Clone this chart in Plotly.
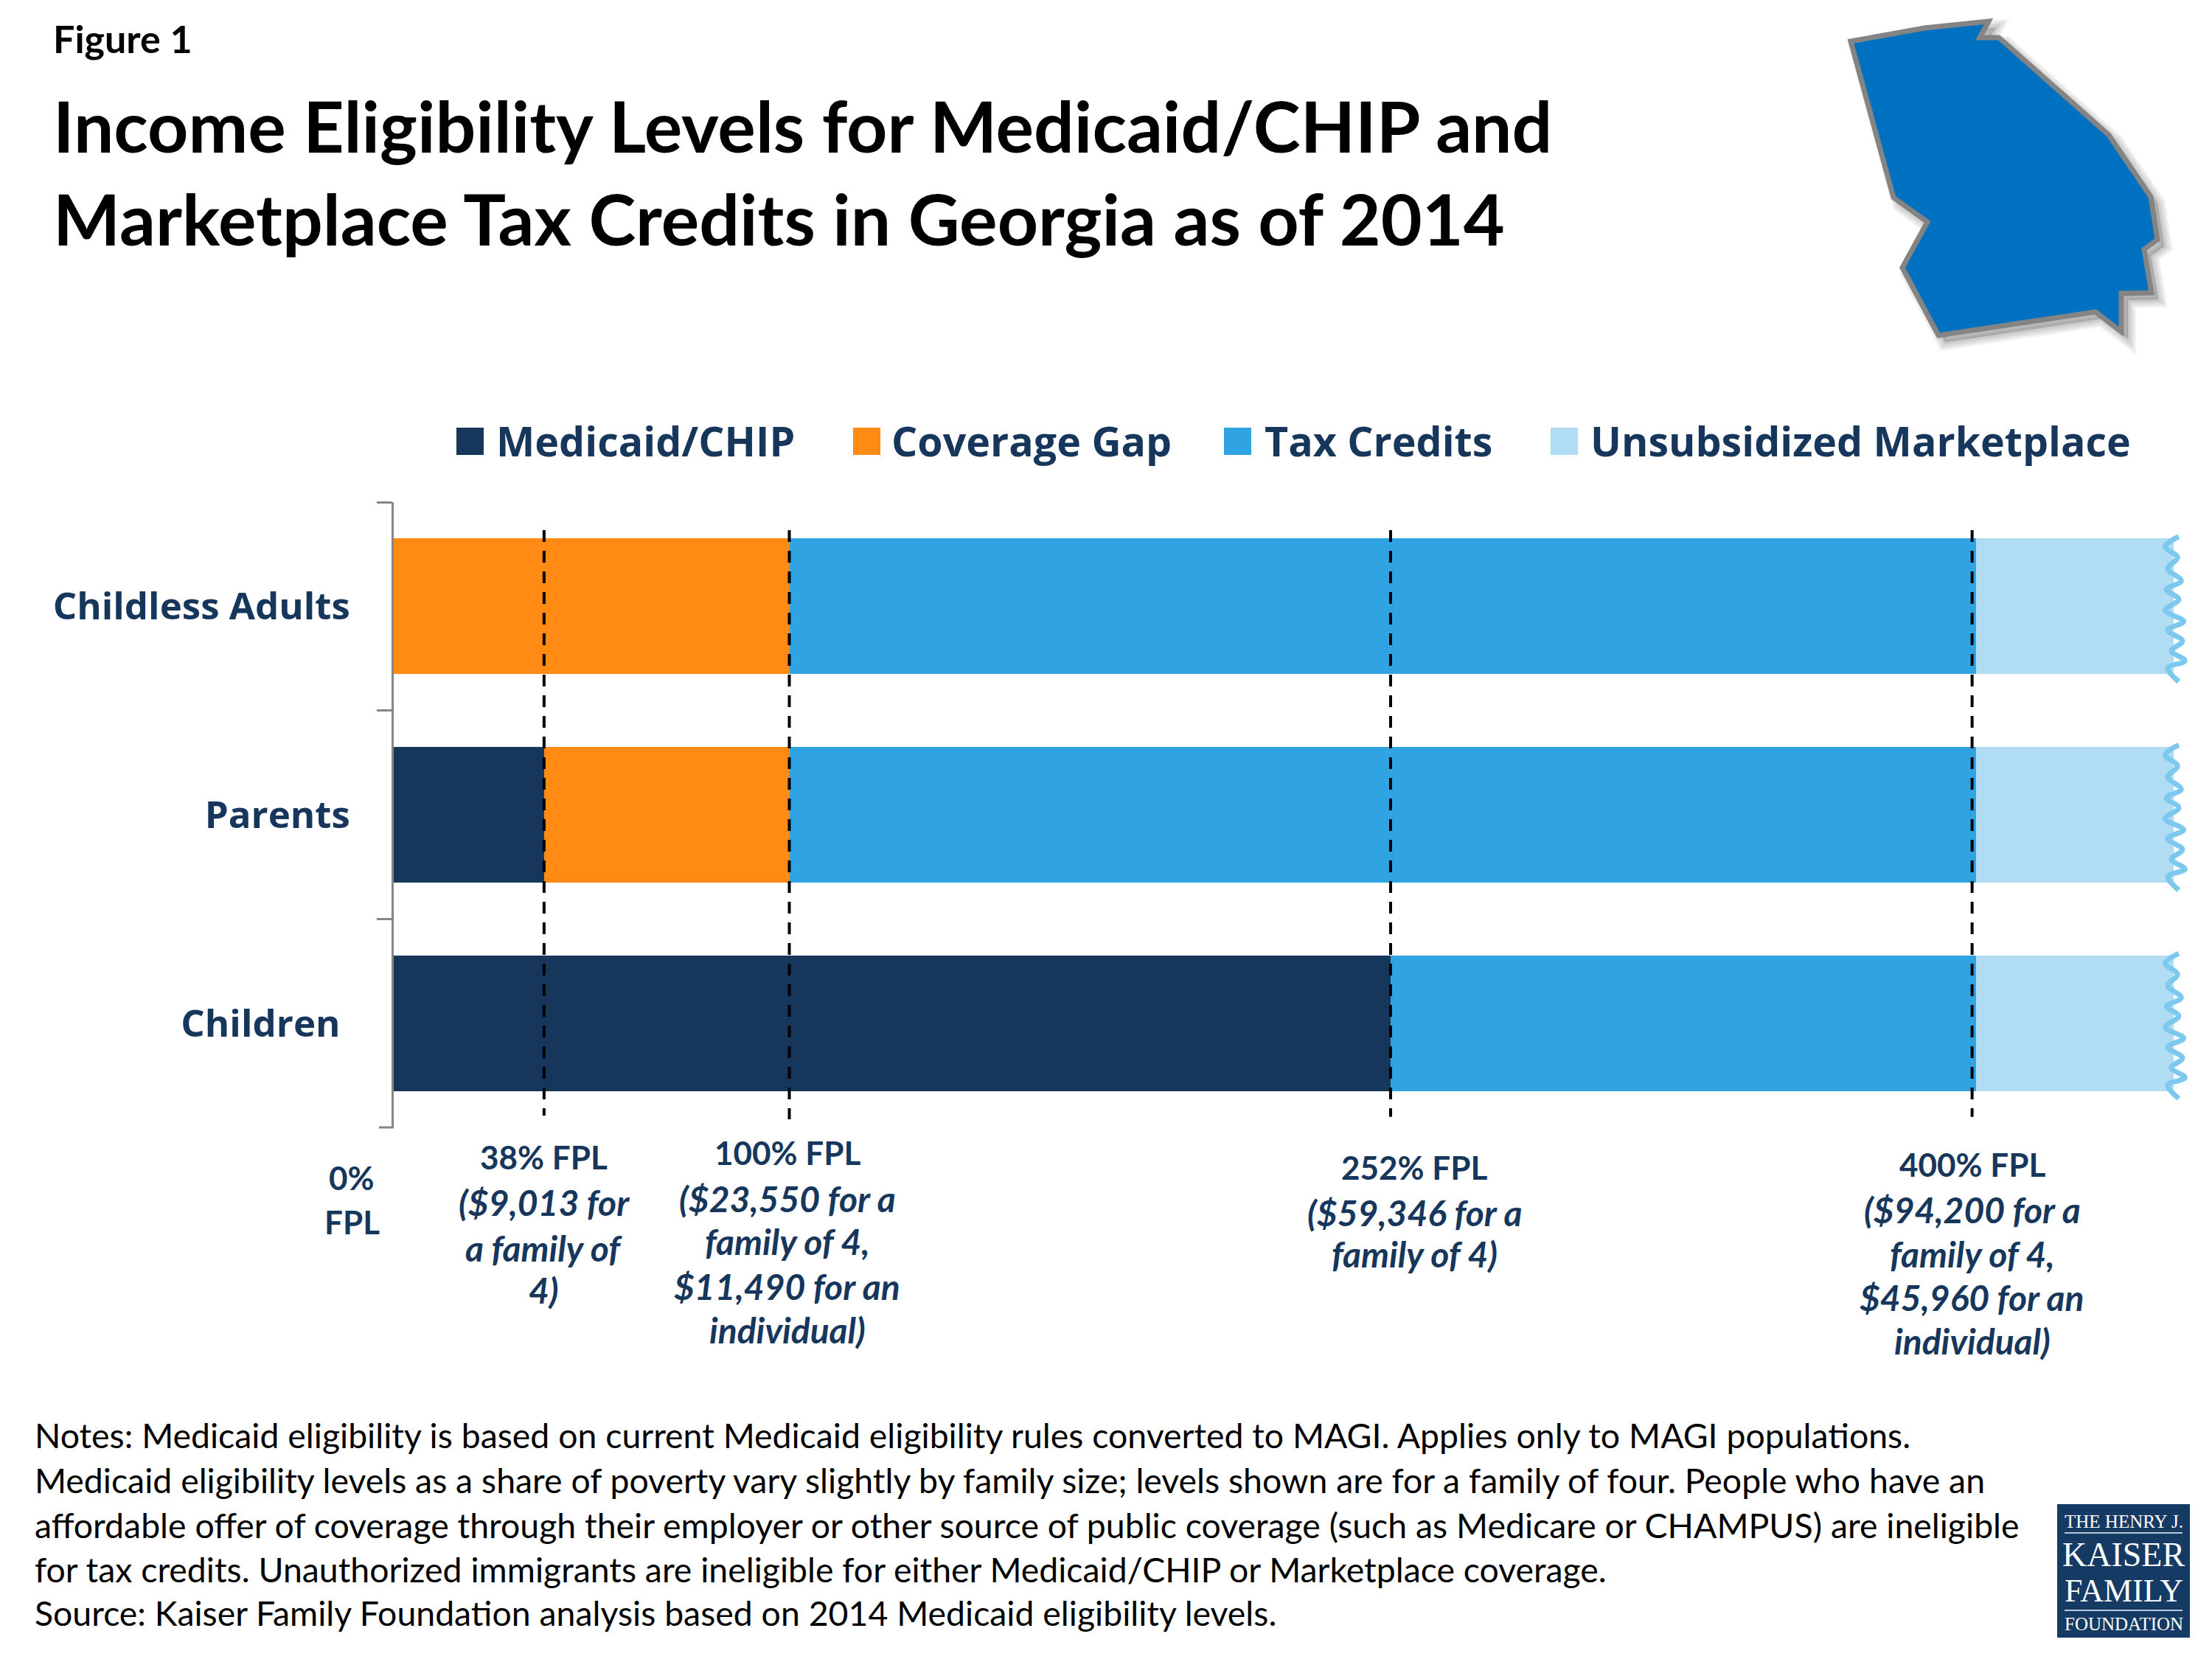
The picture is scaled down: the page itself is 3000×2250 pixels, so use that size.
import plotly.graph_objects as go

W, H = 3000, 2250
PAGE_MARGIN = 8  # browser body margin around the plot div

NAVY = "#16365C"
ORANGE = "#FF8A14"
BLUE = "#30A3E3"
LIGHT = "#B0DDF4"

categories = ["Childless Adults", "Parents", "Children\u00a0"]
series_names = ["Medicaid/CHIP", "Coverage Gap", "Tax Credits", "Unsubsidized Marketplace"]
medicaid = [0, 38, 252]
coverage_gap = [100, 62, 0]
tax_credits = [300, 300, 148]
unsubsidized = [50, 50, 50]
series_colors = [NAVY, ORANGE, BLUE, LIGHT]

fpl_lines = [38, 100, 252, 399]
fpl_line_ends = [2.443, 2.461, 2.45, 2.45]

title_lines = ["Income Eligibility Levels for Medicaid/CHIP and",
               "Marketplace Tax Credits in Georgia as of 2014"]
notes_lines = [
    "Notes: Medicaid eligibility is based on current Medicaid eligibility rules converted to MAGI. Applies only to MAGI populations.",
    "Medicaid eligibility levels as a share of poverty vary slightly by family size; levels shown are for a family of four. People who have an",
    "affordable offer of coverage through their employer or other source of public coverage (such as Medicare or CHAMPUS) are ineligible",
    "for tax credits. Unauthorized immigrants are ineligible for either Medicaid/CHIP or Marketplace coverage.",
    "Source: Kaiser Family Foundation analysis based on 2014 Medicaid eligibility levels.",
]

# text, x value on the FPL scale, y of each line in page pixels
fpl_labels = [
    (["38% FPL", "($9,013 for", "a family of", "4)"], 38, [1569, 1630, 1692, 1749]),
    (["100% FPL", "($23,550 for a", "family of 4,", "$11,490 for an", "individual)"], 99.5, [1563, 1625, 1683, 1744, 1803]),
    (["252% FPL", "($59,346 for a", "family of 4)"], 258, [1583, 1644, 1700]),
    (["400% FPL", "($94,200 for a", "family of 4,", "$45,960 for an", "individual)"], 399, [1579, 1640, 1700, 1759, 1818]),
]
zero_label = ["0%", "FPL"]
zero_label_y = [1597, 1657]

# wavy cut at the end of the bars, in pixels from the bar's top right corner
wave_dx = [6.7, -11.7, 5, -8.3, 10, -10, 6.7, -11.7, 13.3, -8.3, 11.7, -3.3, 15, -8.3, 6.7]
wave_dy = [-2.7, 10.7, 25.7, 40.7, 57.3, 69, 82.3, 97.3, 112.3, 124, 139, 152.3, 165.7, 175.7, 194]

georgia_x = [2510, 2610, 2697, 2685, 2711, 2860, 2917, 2926, 2908, 2918, 2877, 2877, 2842, 2629, 2580, 2614, 2568]
georgia_y = [56, 38, 29, 51, 51, 183, 267, 325, 338, 397, 398, 450, 423, 455, 363, 301, 268]

X_MAX = 460  # a little room past the bars so the wavy ends are not clipped
px_per_unit = (2680 - 534) / 400
X0, X1 = 534, 534 + X_MAX * px_per_unit
Y0, Y1 = 681, 1529
px_per_cat = (Y1 - Y0) / 3


def px(x):
    return (x - PAGE_MARGIN) / W


def py(y):
    return 1 - (y - PAGE_MARGIN) / H


def text(x, y, s, size, color="#000000", family="Lato", anchor="left", xref="paper", weight="normal"):
    fig.add_annotation(x=x, y=py(y), xref=xref, yref="paper", text=s, showarrow=False,
                       xanchor=anchor, yanchor="middle", align=anchor,
                       font=dict(family=family, size=size, color=color, weight=weight))


fig = go.Figure()

for name, vals, color in zip(series_names, [medicaid, coverage_gap, tax_credits, unsubsidized], series_colors):
    fig.add_trace(go.Bar(y=categories, x=vals, name=name, orientation="h",
                         marker=dict(color=color, line=dict(width=0))))

# dashed FPL markers
for val, end in zip(fpl_lines, fpl_line_ends):
    fig.add_trace(go.Scatter(x=[val, val], y=[-0.366, end], yaxis="y2", mode="lines",
                             line=dict(color="black", width=4, dash="16px,12px")))

# wavy bar ends
for i in range(3):
    fig.add_trace(go.Scatter(x=[450 + d / px_per_unit for d in wave_dx],
                             y=[i - 0.325 + d / px_per_cat for d in wave_dy],
                             yaxis="y2", mode="lines",
                             line=dict(color="#7CC8EE", width=7, shape="spline")))

fig.update_layout(
    width=W, height=H, margin=dict(l=0, r=0, t=0, b=0),
    paper_bgcolor="white", plot_bgcolor="white",
    barmode="stack", bargap=0.35, showlegend=False,
    xaxis=dict(domain=[px(X0), px(X1)], range=[0, X_MAX], visible=False),
    yaxis=dict(domain=[py(Y1), py(Y0)], range=[2.5, -0.5], type="category",
               categoryorder="array", categoryarray=categories,
               showline=True, linecolor="#868686", linewidth=3, showgrid=False, zeroline=False,
               ticks="outside", ticklen=20, tickcolor="#868686", tickwidth=3, tickson="boundaries",
               ticklabelstandoff=46,
               tickfont=dict(family="Open Sans", size=51, color=NAVY, weight=700)),
    yaxis2=dict(domain=[py(Y1), py(Y0)], range=[2.5, -0.5], overlaying="y", visible=False),
)

# last tick of the category axis
fig.add_shape(type="line", xref="paper", yref="paper", x0=px(X0 - 20), x1=px(X0), y0=py(Y1), y1=py(Y1),
              line=dict(color="#868686", width=3))

# title block
text(px(70), 52, "<b>Figure 1</b>", 52)
for s, y in zip(title_lines, [170, 296]):
    text(px(70), y, "<b>" + s + "</b>", 96.5)

# legend
legend_square_x = [619, 1157, 1660, 2103]
legend_text_x = [671, 1207, 1713, 2155]
for name, color, sq, tx in zip(series_names, series_colors, legend_square_x, legend_text_x):
    fig.add_shape(type="rect", xref="paper", yref="paper", x0=px(sq), x1=px(sq + 37),
                  y0=py(617), y1=py(580), fillcolor=color, line_width=0)
    text(px(tx), 597, s=name, size=55.5, color=NAVY, family="Open Sans", weight=700)

# labels under the bars
for s, y in zip(zero_label, zero_label_y):
    text(px(477), y, "<b>" + s + "</b>", 44, color=NAVY, anchor="center")
for lines, val, ys in fpl_labels:
    for i, (s, y) in enumerate(zip(lines, ys)):
        if i == 0:
            text(val, y, "<b>" + s + "</b>", 44, color=NAVY, anchor="center", xref="x")
        else:
            text(val, y, "<b><i>" + s + "</i></b>", 48, color=NAVY, anchor="center", xref="x")

# notes
for s, y in zip(notes_lines, [1946, 2007, 2068, 2128, 2187]):
    text(px(45), y, s, 46.4)

# Georgia outline with a soft drop shadow
path = "M" + "L".join(f"{px(x)},{py(y)}" for x, y in zip(georgia_x, georgia_y)) + "Z"
shadow = "M" + "L".join(f"{px(x + 9)},{py(y + 9)}" for x, y in zip(georgia_x, georgia_y)) + "Z"
for w in [22, 17, 12, 7, 2]:
    fig.add_shape(type="path", path=shadow, xref="paper", yref="paper", fillcolor="rgba(0,0,0,0.03)",
                  line=dict(color="rgba(0,0,0,0.05)", width=w), layer="below")
fig.add_shape(type="path", path=path, xref="paper", yref="paper", fillcolor="#0070C0",
              line=dict(color="#848484", width=7))

# logo
fig.add_shape(type="rect", xref="paper", yref="paper", x0=px(2790), x1=px(2970), y0=py(2221), y1=py(2040),
              fillcolor="#153A63", line_width=0)
for y in [2079, 2184]:
    fig.add_shape(type="line", xref="paper", yref="paper", x0=px(2800), x1=px(2960), y0=py(y), y1=py(y),
                  line=dict(color="#B8C6D6", width=2))
for s, y, size in [("THE HENRY J.", 2063, 25), ("KAISER", 2108, 46), ("FAMILY", 2157, 44), ("FOUNDATION", 2202, 25)]:
    text(px(2880), y, s, size, color="white", family="Liberation Serif", anchor="center")

fig.write_html("out.html")
